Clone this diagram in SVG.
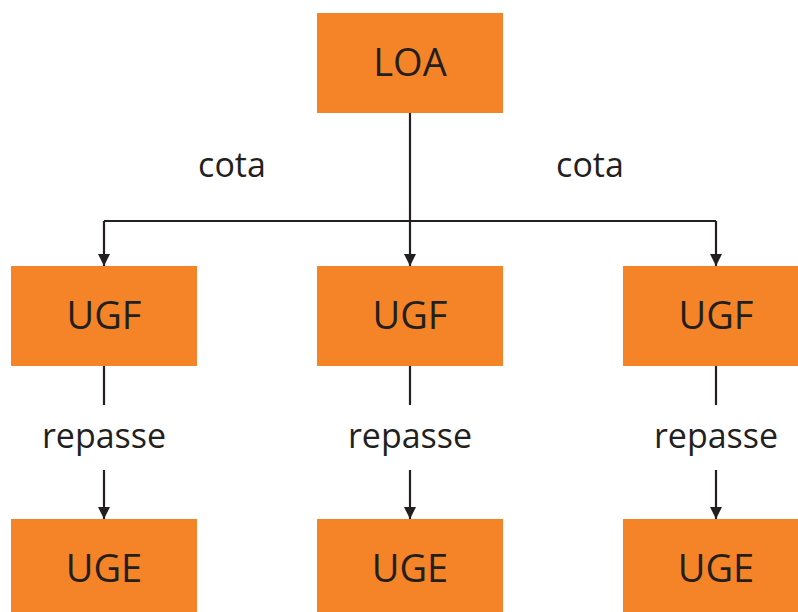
<svg xmlns="http://www.w3.org/2000/svg" width="798" height="612" viewBox="0 0 798 612">
<defs>
<style>
.box{fill:#F58428}
.t{font-family:"Open Sans","Noto Sans",sans-serif;font-size:38px;fill:#231F20;text-anchor:middle}
.l{font-family:"Open Sans","Noto Sans",sans-serif;font-size:34px;fill:#231F20;text-anchor:middle}
.c{fill:none;stroke:#231F20;stroke-width:2.2}
</style>
<marker id="ah" viewBox="0 0 12 12" refX="12" refY="6" markerWidth="12" markerHeight="12" markerUnits="userSpaceOnUse" orient="auto">
<path d="M0,0 L12,6 L0,12 Z" fill="#231F20"/>
</marker>
</defs>
<g id="connectors">
<path class="c" d="M410,113 V221"/>
<path class="c" d="M104,221 H716"/>
<path class="c" d="M104,221 V266" marker-end="url(#ah)"/>
<path class="c" d="M410,221 V266" marker-end="url(#ah)"/>
<path class="c" d="M716,221 V266" marker-end="url(#ah)"/>
<path class="c" d="M104,366 V405"/>
<path class="c" d="M410,366 V405"/>
<path class="c" d="M716,366 V405"/>
<path class="c" d="M104,470 V519" marker-end="url(#ah)"/>
<path class="c" d="M410,470 V519" marker-end="url(#ah)"/>
<path class="c" d="M716,470 V519" marker-end="url(#ah)"/>
<text class="l" x="232" y="177">cota</text>
<text class="l" x="590" y="177">cota</text>
<text class="l" x="104" y="448">repasse</text>
<text class="l" x="410" y="448">repasse</text>
<text class="l" x="716" y="448">repasse</text>
</g>
<g id="loa"><rect class="box" x="317" y="13" width="186" height="100"/><text class="t" x="410" y="76">LOA</text></g>
<g id="ugf1"><rect class="box" x="11" y="266" width="186" height="100"/><text class="t" x="104" y="329">UGF</text></g>
<g id="ugf2"><rect class="box" x="317" y="266" width="186" height="100"/><text class="t" x="410" y="329">UGF</text></g>
<g id="ugf3"><rect class="box" x="623" y="266" width="186" height="100"/><text class="t" x="716" y="329">UGF</text></g>
<g id="uge1"><rect class="box" x="11" y="519" width="186" height="100"/><text class="t" x="104" y="582">UGE</text></g>
<g id="uge2"><rect class="box" x="317" y="519" width="186" height="100"/><text class="t" x="410" y="582">UGE</text></g>
<g id="uge3"><rect class="box" x="623" y="519" width="186" height="100"/><text class="t" x="716" y="582">UGE</text></g>
</svg>
